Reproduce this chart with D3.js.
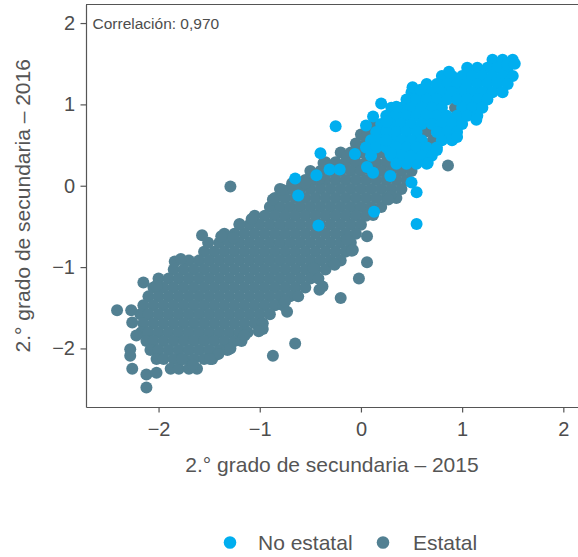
<!DOCTYPE html>
<html><head><meta charset="utf-8">
<script src="https://cdn.jsdelivr.net/npm/d3@7"></script>
<style>body{margin:0;background:#fff}svg{display:block;font-family:"Liberation Sans",Arial,Helvetica,sans-serif}</style>
</head><body><svg id="chart" width="578" height="557"></svg>
<script>
// ---------- data ----------
const xTicks = [-2, -1, 0, 1, 2];
const yTicks = [-2, -1, 0, 1, 2];
const xTitle = "2.° grado de secundaria – 2015";
const yTitle = "2.° grado de secundaria – 2016";
const annotation = "Correlación: 0,970";
const seriesNames = ["No estatal", "Estatal"];
const seriesColors = ["#00aeef", "#528092"];

// Estatal: [y2016, [x2015 values...]]
const estatalRows = [
  [0.63, [0.00,0.10,0.20,0.30]],
  [0.52, [-0.05,0.05,0.15,0.25,0.35,0.45,0.55]],
  [0.41, [-0.20,-0.10,0.00,0.10,0.20,0.30,0.40,0.50,0.60]],
  [0.29, [-0.35,-0.25,-0.15,-0.05,0.05,0.15,0.25,0.35,0.45,0.55]],
  [0.18, [-0.50,-0.40,-0.30,-0.20,-0.10,0.00,0.10,0.20,0.30,0.40,0.50]],
  [0.07, [-0.65,-0.55,-0.45,-0.35,-0.25,-0.15,-0.05,0.05,0.15,0.25,0.35,0.45]],
  [-0.04, [-0.80,-0.70,-0.60,-0.50,-0.40,-0.30,-0.20,-0.10,0.00,0.10,0.20,0.30,0.40]],
  [-0.15, [-0.85,-0.75,-0.65,-0.55,-0.45,-0.35,-0.25,-0.15,-0.05,0.05,0.15,0.25,0.35]],
  [-0.26, [-0.90,-0.80,-0.70,-0.60,-0.50,-0.40,-0.30,-0.20,-0.10,0.00,0.10,0.20]],
  [-0.37, [-1.05,-0.95,-0.85,-0.75,-0.65,-0.55,-0.45,-0.35,-0.25,-0.15,-0.05,0.05]],
  [-0.48, [-1.20,-1.10,-1.00,-0.90,-0.80,-0.70,-0.60,-0.50,-0.40,-0.30,-0.20,-0.10,0.00]],
  [-0.59, [-1.35,-1.25,-1.15,-1.05,-0.95,-0.85,-0.75,-0.65,-0.55,-0.45,-0.35,-0.25,-0.15,-0.05]],
  [-0.70, [-1.40,-1.30,-1.20,-1.10,-1.00,-0.90,-0.80,-0.70,-0.60,-0.50,-0.40,-0.30,-0.20,-0.10]],
  [-0.81, [-1.55,-1.45,-1.35,-1.25,-1.15,-1.05,-0.95,-0.85,-0.75,-0.65,-0.55,-0.45,-0.35,-0.25,-0.15]],
  [-0.92, [-1.70,-1.60,-1.50,-1.40,-1.30,-1.20,-1.10,-1.00,-0.90,-0.80,-0.70,-0.60,-0.50,-0.40,-0.30,-0.20]],
  [-1.03, [-1.85,-1.75,-1.65,-1.55,-1.45,-1.35,-1.25,-1.15,-1.05,-0.95,-0.85,-0.75,-0.65,-0.55,-0.45,-0.35]],
  [-1.14, [-2.00,-1.90,-1.80,-1.70,-1.60,-1.50,-1.40,-1.30,-1.20,-1.10,-1.00,-0.90,-0.80,-0.70,-0.60,-0.50,-0.42]],
  [-1.25, [-2.05,-1.95,-1.85,-1.75,-1.65,-1.55,-1.45,-1.35,-1.25,-1.15,-1.05,-0.95,-0.85,-0.75,-0.65,-0.55]],
  [-1.36, [-2.10,-2.00,-1.90,-1.80,-1.70,-1.60,-1.50,-1.40,-1.30,-1.20,-1.10,-1.00,-0.90,-0.80,-0.70,-0.62]],
  [-1.47, [-2.15,-2.05,-1.95,-1.85,-1.75,-1.65,-1.55,-1.45,-1.35,-1.25,-1.15,-1.05,-0.95,-0.85,-0.77]],
  [-1.58, [-2.18,-2.10,-2.00,-1.90,-1.80,-1.70,-1.60,-1.50,-1.40,-1.30,-1.20,-1.10,-1.00,-0.90]],
  [-1.69, [-2.15,-2.05,-1.95,-1.85,-1.75,-1.65,-1.55,-1.45,-1.35,-1.25,-1.15,-1.05,-0.97]],
  [-1.80, [-2.17,-2.10,-2.00,-1.90,-1.80,-1.70,-1.60,-1.50,-1.40,-1.30,-1.20,-1.12]],
  [-1.91, [-2.12,-2.05,-1.95,-1.85,-1.75,-1.65,-1.55,-1.45,-1.35,-1.25,-1.18]],
  [-2.02, [-2.08,-2.00,-1.90,-1.80,-1.70,-1.60,-1.50,-1.40,-1.32]],
  [-2.13, [-2.02,-1.95,-1.85,-1.75,-1.65,-1.55,-1.47]],
  [-2.25, [-1.88,-1.80,-1.70,-1.62]]
];
// Estatal: isolated points [x2015, y2016]
const estatalSingles = [
  [-2.41,-1.53],[-2.27,-1.53],[-2.26,-1.68],[-2.22,-1.84],[-2.28,-2.01],[-2.28,-2.09],
  [-2.26,-2.25],[-2.12,-2.32],[-2.12,-2.48],[-2.02,-2.30],[-2.15,-1.19],[-2.02,-1.23],
  [-1.84,-0.93],[-1.78,-0.90],[-1.57,-0.61],[-1.51,-0.70],[-1.38,-0.62],[-1.26,-0.64],
  [-1.20,-0.47],[-1.08,-0.41],[-1.29,-0.01],[-0.87,-0.17],[-0.78,-0.05],[-0.68,0.03],
  [-0.55,0.03],[-0.41,0.09],[-0.37,0.28],[-0.14,0.36],[0.06,0.65],[0.12,0.73],
  [0.06,-0.62],[-0.08,-0.79],[0.06,-0.94],[-0.02,-1.14],[-0.20,-1.38],[-0.26,-0.96],
  [-0.38,-1.24],[-0.41,-1.28],[-0.65,-1.94],[-0.87,-2.09],[-0.97,-1.76],[-1.01,-1.79],
  [-1.15,-1.84],[-1.29,-2.00],[-1.41,-2.07],[-1.49,-2.13],[-1.66,-2.20],[-1.77,-2.13],
  [-0.73,-1.55],[-0.75,-1.42],[-0.47,-1.01],[-0.27,-0.96],[-0.14,-0.66],[0.12,-0.36],
  [0.29,-0.13],[0.27,-0.17],[-0.09,-0.80],[-0.26,-0.97],
  [0.65,0.67],[0.71,0.56],[0.86,0.25],[0.93,0.96]
];

// No estatal: [y2016, [x2015 values...]]
const noEstatalRows = [
  [1.55, [1.30,1.40,1.50]],
  [1.45, [1.05,1.15,1.25,1.35,1.45]],
  [1.35, [0.80,0.90,1.00,1.10,1.20,1.30,1.40,1.50]],
  [1.25, [0.65,0.75,0.85,0.95,1.05,1.15,1.25,1.35,1.45]],
  [1.15, [0.50,0.60,0.70,0.80,0.90,1.00,1.10,1.20,1.30,1.40]],
  [1.06, [0.45,0.55,0.65,0.75,0.85,0.95,1.05,1.15,1.25]],
  [0.96, [0.30,0.40,0.50,0.60,0.70,0.80,1.00,1.10,1.20]],
  [0.86, [0.25,0.35,0.45,0.55,0.65,0.75,0.85,0.95,1.05,1.15]],
  [0.76, [0.20,0.30,0.40,0.50,0.60,0.70,0.80,0.90,1.00]],
  [0.66, [0.15,0.25,0.35,0.45,0.55,0.75,0.85,0.95]],
  [0.56, [0.10,0.20,0.30,0.40,0.50,0.60,0.80,0.90]],
  [0.47, [0.05,0.15,0.25,0.35,0.45,0.55,0.65,0.75]],
  [0.37, [0.10,0.30,0.40,0.50,0.60,0.70]],
  [0.27, [0.35,0.45,0.55,0.65]]
];
// No estatal: isolated points [x2015, y2016]
const noEstatalSingles = [
  [0.87,1.40],[0.51,1.21],[0.59,1.18],[0.20,1.01],[0.35,0.97],[0.12,0.85],[0.25,0.79],
  [0.05,0.74],[-0.25,0.73],[-0.40,0.40],[-0.65,0.09],[-0.44,0.13],[-0.31,0.20],[-0.21,0.20],
  [-0.06,0.39],[0.06,0.23],[0.12,0.16],[0.25,0.56],[0.29,0.40],[0.49,0.36],[-0.62,-0.12],
  [0.29,0.12],[0.50,0.04],[0.55,-0.08],[0.66,0.28],[0.55,-0.47],[-0.42,-0.49],[0.13,-0.32],
  [1.14,0.81],[0.95,0.60],[0.75,0.44],[1.45,1.50],[1.52,1.50]
];

// ---------- build ----------
function flatten(rows, singles) {
  const pts = [];
  rows.forEach(([yv, xs]) => xs.forEach(xv => pts.push([xv, yv])));
  singles.forEach(p => pts.push(p));
  return pts;
}
const estatal = flatten(estatalRows, estatalSingles);
const noEstatal = flatten(noEstatalRows, noEstatalSingles);

const svg = d3.select("#chart");
const pLeft = 86, pRight = 578, pTop = 4.5, pBottom = 407;

const x = d3.scaleLinear().domain([-2.717, 2.145]).range([pLeft, pRight]);
const y = d3.scaleLinear().domain([-2.72, 2.228]).range([pBottom, pTop]);

const axisColor = "#555555";
const textColor = "#4d4d4d";
const rad = 6;

// points
const gPts = svg.append("g");
gPts.selectAll("circle.est").data(estatal).join("circle")
  .attr("class", "est").attr("cx", d => x(d[0])).attr("cy", d => y(d[1]))
  .attr("r", rad).attr("fill", seriesColors[1]);
gPts.selectAll("circle.noest").data(noEstatal).join("circle")
  .attr("class", "noest").attr("cx", d => x(d[0])).attr("cy", d => y(d[1]))
  .attr("r", rad).attr("fill", seriesColors[0]);

// axes
const fmt = d3.format("d");
const xAxis = svg.append("g").attr("transform", `translate(0,${pBottom})`)
  .call(d3.axisBottom(x).tickValues(xTicks).tickFormat(fmt).tickSize(5.5).tickSizeOuter(0).tickPadding(9.5));
const yAxis = svg.append("g").attr("transform", `translate(${pLeft},0)`)
  .call(d3.axisLeft(y).tickValues(yTicks).tickFormat(fmt).tickSize(5.5).tickSizeOuter(0).tickPadding(5.5));
[xAxis, yAxis].forEach(a => {
  a.attr("font-family", null).attr("font-size", null);
  a.select(".domain").attr("stroke", axisColor).attr("stroke-width", 1.2);
  a.selectAll(".tick line").attr("stroke", axisColor).attr("stroke-width", 1.2);
  a.selectAll(".tick text").attr("fill", textColor).style("font-size", "20px");
});
// top border
svg.append("line").attr("x1", pLeft).attr("x2", pRight).attr("y1", pTop).attr("y2", pTop)
  .attr("stroke", axisColor).attr("stroke-width", 1.2);

// annotation
svg.append("text").attr("x", pLeft + 6.5).attr("y", 29).text(annotation)
  .attr("fill", textColor).style("font-size", "15.5px");

// titles
svg.append("text").attr("x", (pLeft + pRight) / 2).attr("y", 472)
  .attr("text-anchor", "middle").attr("fill", "#555").style("font-size", "21px").text(xTitle);
svg.append("text").attr("transform", `translate(30,${(pTop + pBottom) / 2}) rotate(-90)`)
  .attr("text-anchor", "middle").attr("fill", "#555").style("font-size", "21px").text(yTitle);

// legend
const legendItems = [
  {name: seriesNames[0], color: seriesColors[0], cx: 230, tx: 258},
  {name: seriesNames[1], color: seriesColors[1], cx: 383, tx: 413}
];
const lg = svg.append("g");
legendItems.forEach(it => {
  lg.append("circle").attr("cx", it.cx).attr("cy", 542.5).attr("r", 6.3).attr("fill", it.color);
  lg.append("text").attr("x", it.tx).attr("y", 549.5).attr("fill", "#555")
    .style("font-size", "21px").text(it.name);
});
</script>
</body></html>
